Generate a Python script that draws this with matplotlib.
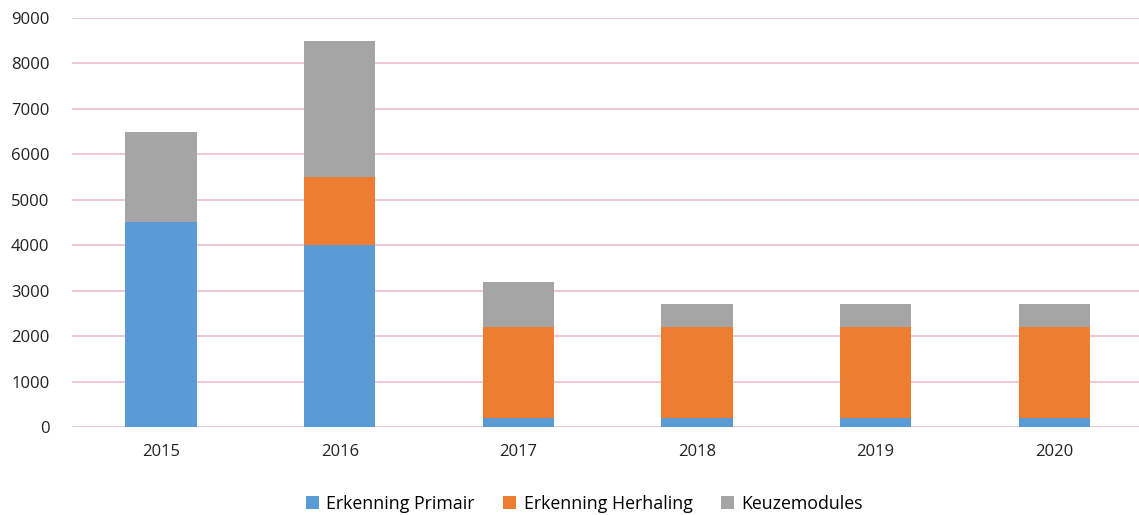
import matplotlib.pyplot as plt
import numpy as np

plt.rcParams['font.family'] = ['Open Sans', 'DejaVu Sans']

years = ['2015', '2016', '2017', '2018', '2019', '2020']
primair = [4500, 4000, 200, 200, 200, 200]
herhaling = [0, 1500, 2000, 2000, 2000, 2000]
keuze = [2000, 3000, 1000, 500, 500, 500]

series = [
    ('Erkenning Primair', primair, '#5b9bd5'),
    ('Erkenning Herhaling', herhaling, '#ed7d31'),
    ('Keuzemodules', keuze, '#a5a5a5'),
]

fig = plt.figure(figsize=(11.39, 5.15), dpi=100)
ax = fig.add_axes([0.063, 0.171, 0.941, 0.794])

x = np.arange(len(years))
bottom = np.zeros(len(years))
for name, vals, color in series:
    ax.bar(x, vals, width=0.4, bottom=bottom, color=color, label=name, zorder=3)
    bottom += np.array(vals)

ax.set_xlim(-0.5, len(years) - 0.5)
ax.set_ylim(0, 9000)
ax.set_yticks(np.arange(0, 9001, 1000))
ax.set_xticks(x)
ax.set_xticklabels(years)
ax.yaxis.grid(True, color='#f0bfcb', linewidth=1.2, zorder=0)
for s in ax.spines.values():
    s.set_visible(False)
ax.tick_params(axis='both', length=0, labelsize=12, colors='#222222')
ax.tick_params(axis='y', pad=16)
ax.tick_params(axis='x', pad=12)

fig.legend(loc='center', bbox_to_anchor=(0.513, 0.022), ncol=3, frameon=False,
           fontsize=12.8, handlelength=0.75, handleheight=0.75, handletextpad=0.4,
           columnspacing=1.6)

fig.savefig('out.png', dpi=100)
